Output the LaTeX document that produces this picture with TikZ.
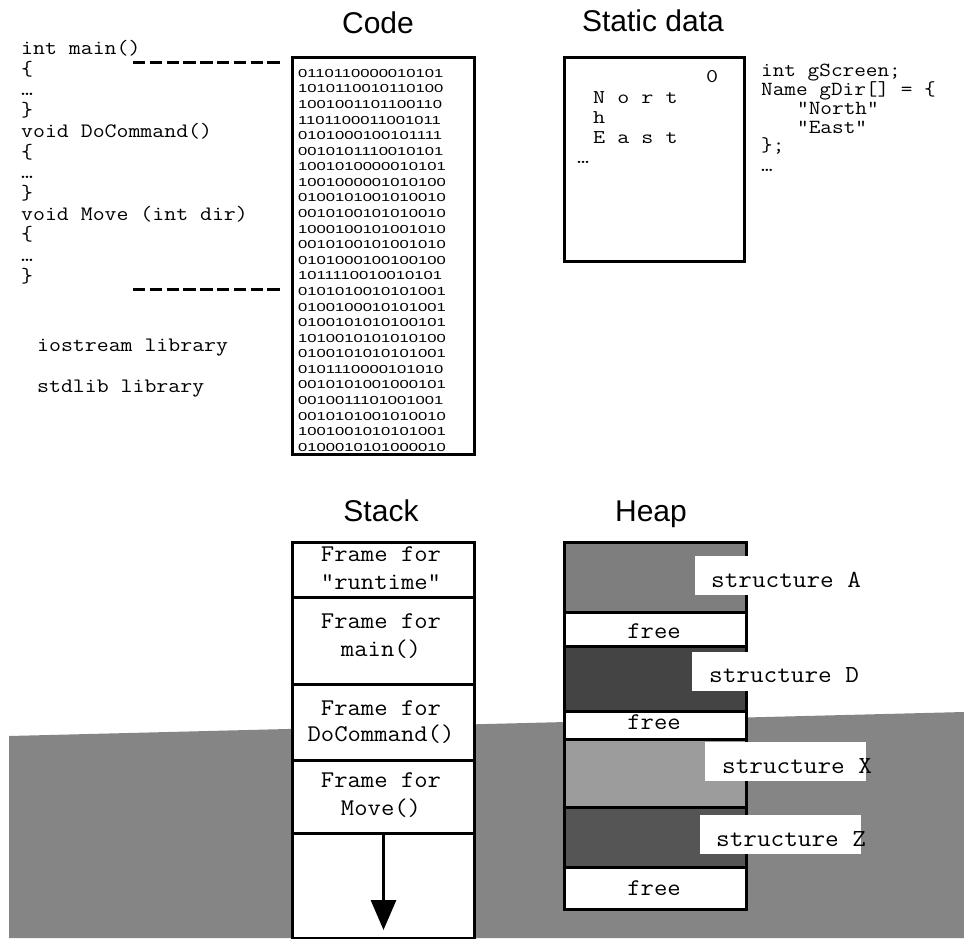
\documentclass[tikz,border=0pt]{standalone}
\usepackage{fontspec}
\setmainfont{Liberation Sans}
\newfontfamily\widefont[FakeStretch=1.08]{Latin Modern Mono}
\newfontfamily\codefont[FakeStretch=1.13]{Latin Modern Mono}
\newfontfamily\statfont[FakeStretch=1.2]{Latin Modern Mono}
\newfontfamily\binfont[FakeStretch=1.43]{Liberation Sans}
\usetikzlibrary{arrows.meta}
\definecolor{bggray}{HTML}{858585}
\definecolor{heapA}{HTML}{7E7E7E}
\definecolor{heapD}{HTML}{444444}
\definecolor{heapX}{HTML}{9C9C9C}
\definecolor{heapZ}{HTML}{555555}
\begin{document}
\begin{tikzpicture}[x=1pt,y=-1pt,
  titletext/.style={inner sep=0pt, anchor=base, font=\fontsize{30pt}{30pt}\selectfont},
  codeline/.style={inner sep=0pt, anchor=base west, font=\codefont\fontsize{20.5pt}{20.5pt}\selectfont},
  rcodeline/.style={inner sep=0pt, anchor=base west, font=\codefont\fontsize{20pt}{20pt}\selectfont},
  statline/.style={inner sep=0pt, anchor=base west, font=\statfont\fontsize{19.5pt}{19.5pt}\selectfont},
  bigline/.style={inner sep=0pt, anchor=base, font=\widefont\fontsize{24pt}{24pt}\selectfont},
  biglinew/.style={inner sep=0pt, anchor=base west, font=\widefont\fontsize{24.5pt}{24.5pt}\selectfont},
  binline/.style={inner sep=0pt, anchor=base west, font=\binfont\fontsize{11.6pt}{11.6pt}\selectfont},
  memboxstyle/.style={draw, line width=3pt, fill=white, inner sep=0pt, anchor=north west, minimum width=182pt},
  labelbox/.style={fill=white, inner sep=0pt, anchor=north west, minimum width=161pt, minimum height=39pt},
  dashline/.style={line width=3pt, dash pattern=on 12.3pt off 4.5pt},
]
\useasboundingbox (0,0) rectangle (964,938);
\fill[white] (0,0) rectangle (964,938);
% gray ground
\fill[bggray] (9,736) -- (964,712) -- (964,938) -- (9,938) -- cycle;

% titles
\node[titletext] (tcode) at (378,33.3) {Code};
\node[titletext] (tstatic) at (653,31.7) {Static data};
\node[titletext] (tstack) at (381,521.7) {Stack};
\node[titletext] (theap) at (651,521.7) {Heap};

% code box
\node[memboxstyle, minimum height=397pt] (codebox) at (291,56) {};
\foreach \b [count=\i from 0] in {0110110000010101,1010110010110100,1001001101100110,1101100011001011,0101000100101111,0010101110010101,1001010000010101,1001000001010100,0100101001010010,0010100101010010,1000100101001010,0010100101001010,0101000100100100,1011110010010101,0101010010101001,0100100010101001,0100101010100101,1010010101010100,0100101010101001,0101110000101010,0010101001000101,0010011101001001,0010101001010010,1001001010101001,0100010101000010}
  \node[binline] (bin\i) at (298,{77.3+15.58*\i}) {\b};

% left code text
\node[codeline] (lc0) at (21,54.5) {int main()};
\node[codeline] (lc1) at (21,75.2) {\{};
\node[codeline] (lc2) at (21,95.9) {…};
\node[codeline] (lc3) at (21,116.6) {\}};
\node[codeline] (lc4) at (21,137.3) {void DoCommand()};
\node[codeline] (lc5) at (21,158.0) {\{};
\node[codeline] (lc6) at (21,178.7) {…};
\node[codeline] (lc7) at (21,199.4) {\}};
\node[codeline] (lc8) at (21,220.1) {void Move (int dir)};
\node[codeline] (lc9) at (21,240.8) {\{};
\node[codeline] (lc10) at (21,261.5) {…};
\node[codeline] (lc11) at (21,282.2) {\}};
\node[codeline] (lib1) at (37,351.7) {iostream library};
\node[codeline] (lib2) at (37,392.2) {stdlib library};

% dashed leader lines
\coordinate (d1a) at (133,62.7);
\coordinate (d1b) at (280,62.7);
\coordinate (d2a) at (133,289.3);
\coordinate (d2b) at (280,289.3);
\draw[dashline] (d1a) -- (d1b);
\draw[dashline] (d2a) -- (d2b);

% static data box
\node[memboxstyle, line width=2.5pt, minimum width=180pt, minimum height=204pt] (statbox) at (563,56) {};
\node[statline] (s0) at (706,82) {0};
\node[statline] (s1) at (593,103) {N o r t};
\node[statline] (s2) at (593,123) {h};
\node[statline] (s3) at (593,143) {E a s t};
\node[statline] (s4) at (577,163) {…};

% right code text
\node[rcodeline] (rc0) at (761,76) {int gScreen;};
\node[rcodeline] (rc1) at (761,95.5) {Name gDir[] = \{};
\node[rcodeline] (rc2) at (797,114.5) {"North"};
\node[rcodeline] (rc3) at (797,133.5) {"East"};
\node[rcodeline] (rc4) at (761,151.5) {\};};
\node[rcodeline] (rc5) at (761,171.5) {…};

% stack
\node[memboxstyle, minimum height=55pt] (f1) at (291,541) {};
\node[memboxstyle, minimum height=87pt] (f2) at (291,596) {};
\node[memboxstyle, minimum height=76pt] (f3) at (291,683) {};
\node[memboxstyle, minimum height=73pt] (f4) at (291,759) {};
\node[memboxstyle, minimum height=105pt] (f5) at (291,832) {};
\node[bigline] (f1a) at (381,561.7) {Frame for};
\node[bigline] (f1b) at (381,589) {"runtime"};
\node[bigline] (f2a) at (381,628.3) {Frame for};
\node[bigline] (f2b) at (381,656.7) {main()};
\node[bigline] (f3a) at (381,715) {Frame for};
\node[bigline] (f3b) at (381,741.7) {DoCommand()};
\node[bigline] (f4a) at (381,787.7) {Frame for};
\node[bigline] (f4b) at (381,815.7) {Move()};
\coordinate (tip) at (f5.north |- 0,930);
\draw[line width=3pt, -{Triangle[width=25pt,length=30pt]}] (f5.north) -- (tip);

% heap
\node[memboxstyle, fill=heapA, minimum height=70pt] (h1) at (563,541) {};
\node[memboxstyle, minimum height=34pt] (h2) at (563,611) {};
\node[memboxstyle, fill=heapD, minimum height=65pt] (h3) at (563,645) {};
\node[memboxstyle, minimum height=28pt] (h4) at (563,710) {};
\node[memboxstyle, fill=heapX, minimum height=68pt] (h5) at (563,738) {};
\node[memboxstyle, fill=heapZ, minimum height=60pt] (h6) at (563,806) {};
\node[memboxstyle, minimum height=42pt] (h7) at (563,866) {};
\node[bigline] (fr1) at (654,638) {free};
\node[bigline] (fr2) at (654,729) {free};
\node[bigline] (fr3) at (654,895) {free};

% structure labels
\node[labelbox] (la) at (695,556) {};
\node[labelbox] (ld) at (692,652) {};
\node[labelbox] (lx) at (705,742) {};
\node[labelbox] (lz) at (700,815) {};
\node[biglinew] (ta) at (711,587.3) {structure A};
\node[biglinew] (td) at (709,682.7) {structure D};
\node[biglinew] (tx) at (722,773.3) {structure X};
\node[biglinew] (tz) at (716,846) {structure Z};
\end{tikzpicture}
\end{document}
